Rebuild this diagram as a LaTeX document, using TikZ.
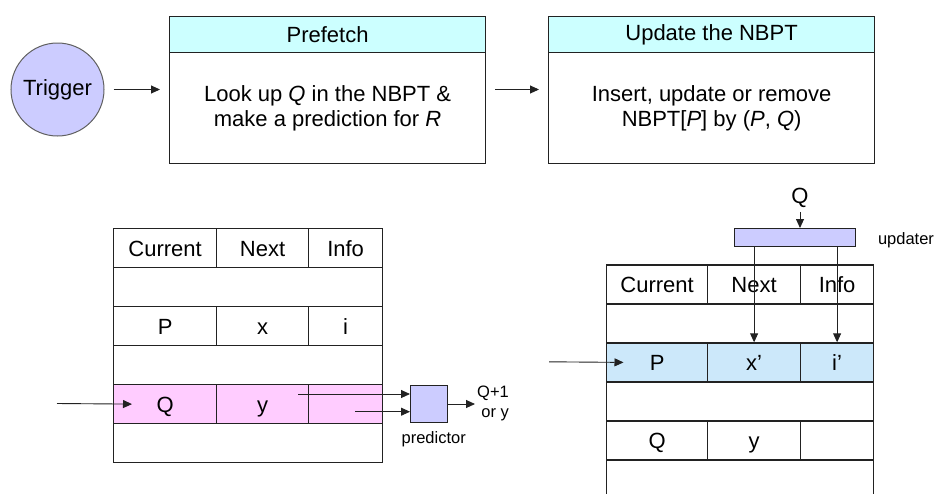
\documentclass[tikz,border=0pt]{standalone}
\usepackage{fontspec}
\setmainfont{Liberation Sans}
\usetikzlibrary{arrows.meta,calc}
\definecolor{linec}{HTML}{222222}
\definecolor{ringc}{HTML}{606060}
\definecolor{headc}{HTML}{CCFFFF}
\definecolor{lavc}{HTML}{CCCCFF}
\definecolor{pinkc}{HTML}{FFCCFF}
\definecolor{bluec}{HTML}{CCE8FA}
\begin{document}
\begin{tikzpicture}[x=1pt,y=-1pt,
  every node/.style={font=\fontsize{22}{25}\selectfont},
  small/.style={font=\fontsize{16.5}{20.5}\selectfont},
  box/.style={draw=linec,line width=1.2pt,inner sep=0pt,anchor=north west},
  cell/.style={box,minimum height=39pt,text height=15.8pt,text depth=0pt},
  unit/.style={draw=linec,fill=lavc,line width=1pt,inner sep=0pt,anchor=north west},
  arr/.style={-{Triangle[length=9pt,width=8pt]},line width=0.9pt,draw=linec},
]
\useasboundingbox (0,0) rectangle (939,493);

% ---- process stages ----
\node[circle,draw=ringc,fill=lavc,line width=1pt,minimum size=93pt,inner sep=0pt] (trig) at (57.5,89.5) {Trigger};

\node[box,fill=headc,minimum width=316pt,minimum height=36.5pt] (pfh) at (169,15.7) {Prefetch};
\node[box,minimum width=316pt,minimum height=111pt,align=center] (pfb) at (169,52.2)
  {Look up \textit{Q} in the NBPT \&\\make a prediction for \textit{R}};

\node[box,fill=headc,minimum width=326pt,minimum height=36.5pt] (uph) at (548,15.7) {Update the NBPT};
\node[box,minimum width=326pt,minimum height=111pt,align=center] (upb) at (548,52.2)
  {Insert, update or remove\\NBPT[\textit{P}] by (\textit{P}, \textit{Q})};

\draw[arr,shorten <=9pt,shorten >=9pt] (trig.east) -- (trig.east -| pfb.west);
\draw[arr,shorten <=9pt,shorten >=9pt] (trig.east -| pfb.east) -- (trig.east -| upb.west);

% ---- lookup table (prefetch) ----
\node[cell,minimum width=103pt] (lh1) at (113,228) {Current};
\node[cell,minimum width=92pt]  (lh2) at (216,228) {Next};
\node[cell,minimum width=74pt]  (lh3) at (308,228) {Info};
\node[cell,minimum width=269pt] (lr2) at (113,267) {};
\node[cell,minimum width=103pt] (lp1) at (113,306) {P};
\node[cell,minimum width=92pt]  (lp2) at (216,306) {x};
\node[cell,minimum width=74pt]  (lp3) at (308,306) {i};
\node[cell,minimum width=269pt] (lr4) at (113,345) {};
\node[cell,fill=pinkc,minimum width=103pt] (lq1) at (113,384) {Q};
\node[cell,fill=pinkc,minimum width=92pt]  (lq2) at (216,384) {y};
\node[cell,fill=pinkc,minimum width=74pt]  (lq3) at (308,384) {};
\node[cell,minimum width=269pt] (lr6) at (113,423) {};

\coordinate (lin) at (57,403.5);
\draw[arr] (lin) -- ($(lq1.west)+(19,0)$);

\node[unit,minimum width=37pt,minimum height=37pt] (pred) at (410,385) {};
\node[small] (predl) at (433.7,439) {predictor};
\coordinate (fromy) at (298,394);
\coordinate (frominfo) at (355,411.7);
\draw[arr] (fromy) -- (fromy -| pred.west);
\draw[arr] (frominfo) -- (frominfo -| pred.west);
\node[small,anchor=west,align=right,inner sep=0pt] (qout) at (477,403.5) {Q+1\\or y};
\draw[arr,shorten >=2pt] (pred.east) -- (pred.east -| qout.west);

% ---- table being updated ----
\node[cell,minimum width=101pt] (rh1) at (606,264.3) {Current};
\node[cell,minimum width=93pt]  (rh2) at (707,264.3) {Next};
\node[cell,minimum width=73pt]  (rh3) at (800,264.3) {Info};
\node[cell,minimum width=267pt] (rr2) at (606,303.3) {};
\node[cell,fill=bluec,minimum width=101pt] (rp1) at (606,342.3) {P};
\node[cell,fill=bluec,minimum width=93pt]  (rp2) at (707,342.3) {x’};
\node[cell,fill=bluec,minimum width=73pt]  (rp3) at (800,342.3) {i’};
\node[cell,minimum width=267pt] (rr4) at (606,381.3) {};
\node[cell,minimum width=101pt] (rq1) at (606,420.3) {Q};
\node[cell,minimum width=93pt]  (rq2) at (707,420.3) {y};
\node[cell,minimum width=73pt]  (rq3) at (800,420.3) {};
\node[cell,minimum width=267pt] (rr6) at (606,459.3) {};

\coordinate (rin) at (549,361.8);
\draw[arr] (rin) -- ($(rp1.west)+(17.5,0)$);

\node[unit,minimum width=121pt,minimum height=18pt] (upd) at (734,228) {};
\node[small] (updl) at (906,240) {updater};
\node[inner sep=2pt] (qin) at (800,198) {Q};
\draw[arr,shorten <=2pt] (qin.south) -- (qin.south |- upd.north);
\draw[arr] (upd.south -| rp2.center) -- (rp2.north);
\draw[arr] (upd.south -| rp3.center) -- (rp3.north);
\end{tikzpicture}
\end{document}
